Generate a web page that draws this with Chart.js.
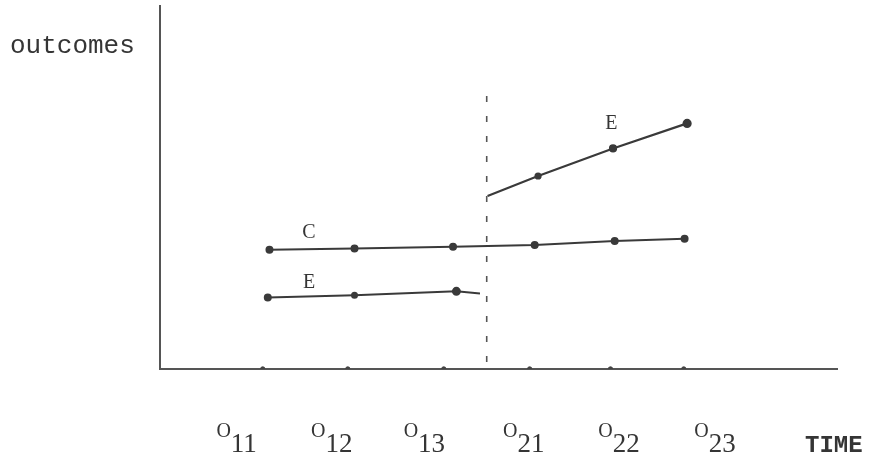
<!DOCTYPE html>
<html>
<head>
<meta charset="utf-8">
<script src="https://cdn.jsdelivr.net/npm/chart.js@4.4.0/dist/chart.umd.min.js"></script>
<style>
html,body{margin:0;padding:0;background:#fff;}
#wrap{width:870px;height:457px;}
</style>
</head>
<body>
<div id="wrap"><canvas id="chart"></canvas></div>
<script>
// Observacoes no eixo do tempo
const obsSubs = ['11','12','13','21','22','23'];
const obsTicks = [1, 2.01, 3.15, 4.17, 5.13, 6];
const obsLabelX = [0.69, 1.82, 2.92, 4.10, 5.23, 6.37];

// Grupo C
const cX = [1.08, 2.09, 3.26, 4.23, 5.18, 6.01];
const cY = [3.29, 3.32, 3.37, 3.42, 3.53, 3.59];

// Grupo E antes da intervencao
const ePreX = [1.06, 2.09, 3.30, 3.58];
const ePreY = [1.97, 2.03, 2.14, 2.08];

// Grupo E depois da intervencao
const ePostX = [3.67, 4.27, 5.16, 6.04];
const ePostY = [4.77, 5.32, 6.08, 6.77];

// Linha da intervencao
const cutX = 3.66;
const cutY = [0.19, 7.78];

const ink = '#3a3a3a';
const pts = (xs, ys) => xs.map((x, i) => ({x: x, y: ys[i]}));

// Textos desenhados sobre o grafico
const textPlugin = {
  id: 'texts',
  afterDatasetsDraw(chart) {
    const c = chart.ctx;
    const sx = chart.scales.x, sy = chart.scales.y;
    c.save();
    c.fillStyle = '#353535';
    c.textBaseline = 'alphabetic';

    // titulo do eixo y
    c.font = '26px "Liberation Mono"';
    c.textAlign = 'left';
    c.fillText('outcomes', 10, 53);

    // TIME
    c.font = 'bold 24px "Liberation Mono"';
    c.fillText('TIME', 805, 452);

    // O11 ... O23
    obsSubs.forEach((s, i) => {
      const cx = sx.getPixelForValue(obsLabelX[i]);
      c.font = '20px "Liberation Serif"';
      const wO = c.measureText('O').width;
      c.font = '27px "Liberation Serif"';
      const wS = c.measureText(s).width;
      const left = cx - (wO + wS) / 2;
      c.font = '20px "Liberation Serif"';
      c.fillText('O', left, 437);
      c.font = '27px "Liberation Serif"';
      c.fillText(s, left + wO, 452);
    });

    // rotulos das linhas
    c.font = '20px "Liberation Serif"';
    c.textAlign = 'center';
    c.textBaseline = 'middle';
    c.fillText('C', sx.getPixelForValue(1.55), sy.getPixelForValue(3.75));
    c.fillText('E', sx.getPixelForValue(1.55), sy.getPixelForValue(2.38));
    c.fillText('E', sx.getPixelForValue(5.14), sy.getPixelForValue(6.77));
    c.restore();
  }
};

const ctx = document.getElementById('chart').getContext('2d');
new Chart(ctx, {
  type: 'scatter',
  data: {
    datasets: [
      {
        label: 'C',
        data: pts(cX, cY),
        showLine: true,
        borderColor: ink,
        backgroundColor: ink,
        borderWidth: 2,
        pointRadius: 3
      },
      {
        label: 'E antes',
        data: pts(ePreX, ePreY),
        showLine: true,
        borderColor: ink,
        backgroundColor: ink,
        borderWidth: 2,
        pointRadius: [3, 2.5, 3.5, 0]
      },
      {
        label: 'E depois',
        data: pts(ePostX, ePostY),
        showLine: true,
        borderColor: ink,
        backgroundColor: ink,
        borderWidth: 2.2,
        pointRadius: [0, 2.5, 3, 3.5]
      },
      {
        label: 'intervencao',
        data: pts([cutX, cutX], cutY),
        showLine: true,
        borderColor: '#555',
        borderWidth: 1.6,
        borderDash: [6, 14],
        pointRadius: 0
      },
      {
        label: 'ticks',
        data: pts(obsTicks, obsTicks.map(() => 0)),
        backgroundColor: '#444',
        borderColor: '#444',
        pointRadius: 2.2
      }
    ]
  },
  options: {
    responsive: true,
    maintainAspectRatio: false,
    animation: false,
    layout: {padding: {left: 160, right: 33, top: 4, bottom: 88}},
    plugins: {legend: {display: false}, tooltip: {enabled: false}},
    scales: {
      x: {
        type: 'linear', min: -0.22, max: 7.82,
        grid: {display: false, drawTicks: false},
        ticks: {display: false},
        border: {display: true, color: '#555', width: 2}
      },
      y: {
        min: 0, max: 10,
        grid: {display: false, drawTicks: false},
        ticks: {display: false},
        border: {display: true, color: '#555', width: 2}
      }
    }
  },
  plugins: [textPlugin]
});
</script>
</body>
</html>
